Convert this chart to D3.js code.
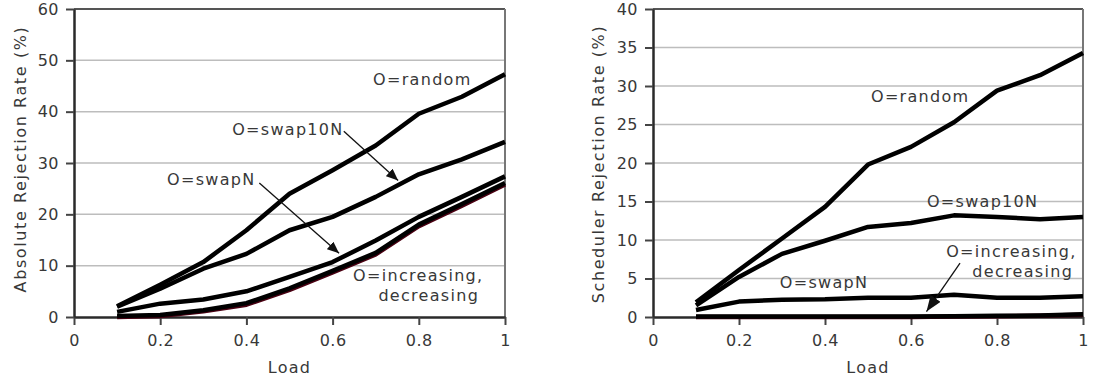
<!DOCTYPE html>
<html>
<head>
<meta charset="utf-8">
<script src="https://cdn.jsdelivr.net/npm/d3@7"></script>
<style>
  html, body { margin: 0; padding: 0; background: #fff; }
  svg { display: block; }
  text { font-family: "DejaVu Sans", Verdana, sans-serif; fill: #383838; }
</style>
</head>
<body>
<svg id="chart" width="1093" height="379"></svg>
<script>
// ---------- data ----------
const loads = [0.1, 0.2, 0.3, 0.4, 0.5, 0.6, 0.7, 0.8, 0.9, 1.0];
const xTicks = [0, 0.2, 0.4, 0.6, 0.8, 1];

// Left chart: Absolute Rejection Rate (%)
const absRandom     = [2.1, 6.3, 10.7, 16.9, 24.0, 28.6, 33.4, 39.6, 42.9, 47.3];
const absSwap10N    = [2.0, 5.5, 9.4, 12.3, 16.9, 19.5, 23.4, 27.8, 30.7, 34.1];
const absSwapN      = [1.0, 2.6, 3.4, 5.0, 7.8, 10.7, 14.9, 19.5, 23.4, 27.4];
const absIncreasing = [0.2, 0.4, 1.3, 2.7, 5.6, 9.0, 12.5, 18.0, 22.0, 26.1];
const absDecreasing = [0.0, 0.2, 1.1, 2.4, 5.3, 8.7, 12.2, 17.7, 21.7, 25.8];
const absYTicks = [0, 10, 20, 30, 40, 50, 60];

// Right chart: Scheduler Rejection Rate (%)
const schRandom     = [1.9, 6.1, 10.2, 14.3, 19.8, 22.1, 25.3, 29.4, 31.4, 34.3];
const schSwap10N    = [1.5, 5.2, 8.2, 9.9, 11.7, 12.2, 13.2, 13.0, 12.7, 13.0];
const schSwapN      = [0.9, 2.0, 2.25, 2.3, 2.5, 2.5, 2.9, 2.5, 2.5, 2.7];
const schIncreasing = [0.05, 0.05, 0.05, 0.05, 0.05, 0.05, 0.1, 0.15, 0.2, 0.35];
const schDecreasing = [0.0, 0.0, 0.0, 0.0, 0.0, 0.0, 0.05, 0.1, 0.15, 0.3];
const schYTicks = [0, 5, 10, 15, 20, 25, 30, 35, 40];

const xTitle = "Load";
const absTitle = "Absolute Rejection Rate (%)";
const schTitle = "Scheduler Rejection Rate (%)";

// ---------- drawing ----------
const svg = d3.select("#chart");
svg.append("rect").attr("width", 1093).attr("height", 379).attr("fill", "#fff");

const defs = svg.append("defs");
[["arrow", 12, 10], ["arrowBig", 16, 12]].forEach(([id, w, h]) => {
  defs.append("marker")
    .attr("id", id)
    .attr("viewBox", `0 0 ${w} ${h}`)
    .attr("refX", w).attr("refY", h / 2)
    .attr("markerWidth", w).attr("markerHeight", h)
    .attr("markerUnits", "userSpaceOnUse")
    .attr("orient", "auto")
    .append("path").attr("d", `M0,0 L${w},${h / 2} L0,${h} Z`).attr("fill", "#111");
});

function panel(opt) {
  const g = svg.append("g");
  const x = d3.scaleLinear().domain([0, 1]).range([opt.left, opt.right]);
  const y = d3.scaleLinear().domain([0, opt.yMax]).range([opt.bottom, opt.top]);

  // grid
  g.append("g").selectAll("line").data(opt.yTicks.filter(t => t > 0 && t < opt.yMax))
    .join("line")
    .attr("x1", opt.left).attr("x2", opt.right)
    .attr("y1", d => y(d)).attr("y2", d => y(d))
    .attr("stroke", "#bdbdbd").attr("stroke-width", 1.5);

  // frame top / right
  g.append("line").attr("x1", opt.left).attr("x2", opt.right).attr("y1", y(opt.yMax)).attr("y2", y(opt.yMax))
    .attr("stroke", "#555").attr("stroke-width", 2);
  g.append("line").attr("x1", opt.right).attr("x2", opt.right).attr("y1", opt.top).attr("y2", opt.bottom)
    .attr("stroke", "#777").attr("stroke-width", 2);

  // axes
  const xAxis = d3.axisBottom(x).tickValues(xTicks).tickFormat(d => d3.format("")(d))
    .tickSizeInner(8).tickSizeOuter(0).tickPadding(10);
  const yAxis = d3.axisLeft(y).tickValues(opt.yTicks)
    .tickSizeInner(8).tickSizeOuter(0).tickPadding(7);

  const gx = g.append("g").attr("transform", `translate(0,${opt.bottom})`).call(xAxis);
  const gy = g.append("g").attr("transform", `translate(${opt.left},0)`).call(yAxis);
  [gx, gy].forEach(a => {
    a.select(".domain").attr("stroke", "#2a2a2a").attr("stroke-width", 2.5);
    a.selectAll(".tick line").attr("stroke", "#444").attr("stroke-width", 2);
    a.selectAll(".tick text")
      .attr("font-family", "DejaVu Sans, sans-serif")
      .attr("font-size", 16).attr("letter-spacing", "0.5px").attr("fill", "#3a3a3a");
  });

  // series
  const line = d3.line().x((d, i) => x(loads[i])).y(d => y(d));
  opt.series.forEach(s => {
    g.append("path").datum(s.values)
      .attr("d", line)
      .attr("fill", "none")
      .attr("stroke", s.color)
      .attr("stroke-width", 4.5)
      .attr("stroke-linejoin", "round")
      .attr("stroke-linecap", "butt");
  });

  // annotations
  opt.labels.forEach(l => {
    g.append("text")
      .attr("x", x(l.x)).attr("y", y(l.y))
      .attr("text-anchor", l.anchor || "start")
      .attr("font-size", 16).attr("letter-spacing", "1.3px")
      .text(l.text);
  });
  opt.arrows.forEach(a => {
    g.append("line")
      .attr("x1", x(a.x1)).attr("y1", y(a.y1))
      .attr("x2", x(a.x2)).attr("y2", y(a.y2))
      .attr("stroke", "#111").attr("stroke-width", 1.3)
      .attr("marker-end", `url(#${a.marker || "arrow"})`);
  });

  // axis titles
  g.append("text")
    .attr("x", (opt.left + opt.right) / 2).attr("y", 373)
    .attr("text-anchor", "middle").attr("font-size", 16).attr("letter-spacing", "1.3px")
    .text(xTitle);
  g.append("text")
    .attr("transform", `translate(${opt.titleX},${opt.titleY}) rotate(-90)`)
    .attr("text-anchor", "middle").attr("font-size", 16).attr("letter-spacing", "1.6px")
    .text(opt.yTitle);
}

panel({
  left: 74, right: 505, top: 9, bottom: 317, yMax: 60, yTicks: absYTicks,
  yTitle: absTitle, titleX: 26, titleY: 159,
  series: [
    { values: absDecreasing, color: "#4a0012" },
    { values: absIncreasing, color: "#000" },
    { values: absRandom, color: "#000" },
    { values: absSwap10N, color: "#000" },
    { values: absSwapN, color: "#000" }
  ],
  labels: [
    { text: "O=random", x: 0.694, y: 45.2 },
    { text: "O=swap10N", x: 0.367, y: 35.4 },
    { text: "O=swapN", x: 0.216, y: 25.8 },
    { text: "O=increasing,", x: 0.95, y: 7.0, anchor: "end" },
    { text: "decreasing", x: 0.94, y: 3.1, anchor: "end" }
  ],
  arrows: [
    { x1: 0.626, y1: 36.2, x2: 0.752, y2: 26.6 },
    { x1: 0.43, y1: 26.1, x2: 0.615, y2: 12.4 }
  ]
});

panel({
  left: 653, right: 1083, top: 9, bottom: 317, yMax: 40, yTicks: schYTicks,
  yTitle: schTitle, titleX: 604, titleY: 164,
  series: [
    { values: schDecreasing, color: "#4a0012" },
    { values: schIncreasing, color: "#000" },
    { values: schRandom, color: "#000" },
    { values: schSwap10N, color: "#000" },
    { values: schSwapN, color: "#000" }
  ],
  labels: [
    { text: "O=random", x: 0.507, y: 27.9 },
    { text: "O=swap10N", x: 0.637, y: 14.3 },
    { text: "O=increasing,", x: 0.985, y: 7.85, anchor: "end" },
    { text: "decreasing", x: 0.977, y: 5.25, anchor: "end" },
    { text: "O=swapN", x: 0.295, y: 3.8 }
  ],
  arrows: [
    { x1: 0.714, y1: 7.0, x2: 0.636, y2: 0.7, marker: "arrowBig" }
  ]
});
</script>
</body>
</html>
